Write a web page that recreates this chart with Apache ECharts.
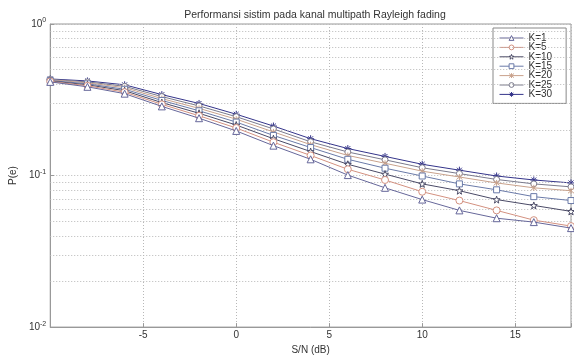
<!DOCTYPE html>
<html>
<head>
<meta charset="utf-8">
<script src="https://cdn.jsdelivr.net/npm/echarts@6/dist/echarts.min.js"></script>
<style>
    html, body { margin: 0; padding: 0; background: #fff; }
    #chart { width: 574px; height: 360px; }
</style>
</head>
<body>
<div id="chart"></div>
<script>
// S/N in dB, one point every 2 dB
const snr = [-10, -8, -6, -4, -2, 0, 2, 4, 6, 8, 10, 12, 14, 16, 18];

// P(e), one list per K
const k1 = [0.415, 0.385, 0.347, 0.286, 0.239, 0.197, 0.1575, 0.128, 0.1007, 0.083, 0.0694, 0.0589, 0.0523, 0.0493, 0.045];
const k5 = [0.418, 0.391, 0.355, 0.295, 0.248, 0.206, 0.166, 0.1357, 0.110, 0.0935, 0.0782, 0.0684, 0.0589, 0.0508, 0.0464];
const k10 = [0.421, 0.397, 0.363, 0.303, 0.2576, 0.2154, 0.175, 0.144, 0.1187, 0.1022, 0.0881, 0.0794, 0.0694, 0.0635, 0.058];
const k15 = [0.424, 0.403, 0.371, 0.313, 0.2675, 0.2253, 0.184, 0.153, 0.128, 0.1118, 0.0993, 0.0881, 0.0805, 0.0726, 0.0684];
const k20 = [0.428, 0.409, 0.380, 0.322, 0.2775, 0.2355, 0.194, 0.160, 0.1357, 0.1205, 0.1069, 0.0978, 0.0894, 0.083, 0.0794];
const k25 = [0.431, 0.415, 0.388, 0.332, 0.288, 0.2445, 0.203, 0.167, 0.143, 0.127, 0.1126, 0.103, 0.0942, 0.0881, 0.0842];
const k30 = [0.434, 0.421, 0.397, 0.342, 0.299, 0.2538, 0.2122, 0.175, 0.1507, 0.1337, 0.1187, 0.1085, 0.0993, 0.0935, 0.0894];

const seriesNames = ['K=1', 'K=5', 'K=10', 'K=15', 'K=20', 'K=25', 'K=30'];
const seriesData = [k1, k5, k10, k15, k20, k25, k30];

// log minor grid (2..9 per decade)
const minorGrid = [0.02, 0.03, 0.04, 0.05, 0.06, 0.07, 0.08, 0.09, 0.2, 0.3, 0.4, 0.5, 0.6, 0.7, 0.8, 0.9];

const STAR = 'path://M0,-10 L2.35,-3.24 L9.51,-3.09 L3.8,1.24 L5.88,8.09 L0,4 L-5.88,8.09 L-3.8,1.24 L-9.51,-3.09 L-2.35,-3.24 Z';
const CROSS = 'path://M-5,-5 L5,5 M5,-5 L-5,5 M0,-6 L0,6';
const ASTER = 'path://M0,-6 L0,6 M-6,0 L6,0 M-4.2,-4.2 L4.2,4.2 M4.2,-4.2 L-4.2,4.2';

const styles = [
    { color: '#66679a', symbol: 'triangle', size: 7 },
    { color: '#d39180', symbol: 'circle', size: 7 },
    { color: '#4a4a66', symbol: STAR, size: 7 },
    { color: '#6a7aa8', symbol: 'rect', size: 6 },
    { color: '#c9a28c', symbol: CROSS, size: 6 },
    { color: '#7a7a8c', symbol: 'circle', size: 6 },
    { color: '#34348a', symbol: ASTER, size: 7 },
];

const chart = echarts.init(document.getElementById('chart'));

const lineSeries = seriesNames.map((name, i) => ({
    name,
    type: 'line',
    data: snr.map((x, j) => [x, seriesData[i][j]]),
    symbol: styles[i].symbol,
    symbolSize: styles[i].size,
    showAllSymbol: true,
    lineStyle: { color: styles[i].color, width: 1 },
    itemStyle: { color: '#fff', borderColor: styles[i].color, borderWidth: 1 },
    emphasis: { disabled: true },
    z: 10 - i,
}));

// dotted minor grid lines
lineSeries.push({
    name: 'grid',
    type: 'line',
    data: [],
    silent: true,
    markLine: {
        silent: true,
        symbol: 'none',
        label: { show: false },
        lineStyle: { color: '#b8b8b8', type: [1, 2], width: 1 },
        data: minorGrid.map(v => ({ yAxis: v })),
    },
    z: 1,
});

chart.setOption({
    animation: false,
    title: {
        text: 'Performansi sistim pada kanal multipath Rayleigh fading',
        left: 310,
        top: 5,
        textAlign: 'center',
        textStyle: { fontSize: 10.5, fontWeight: 'normal', color: '#333', fontFamily: 'Liberation Sans' },
    },
    grid: {
        left: 48,
        right: 1,
        top: 24,
        bottom: 27,
        show: true,
        borderColor: '#999',
        borderWidth: 1,
    },
    legend: {
        data: seriesNames,
        orient: 'vertical',
        left: 493,
        top: 28,
        itemWidth: 24,
        itemHeight: 6,
        itemGap: -0.6,
        padding: [5, 14, 4, 6],
        backgroundColor: '#fff',
        borderColor: '#888',
        borderWidth: 1,
        borderRadius: 0,
        lineStyle: { width: 1 },
        itemStyle: { borderWidth: 1 },
        textStyle: { fontSize: 10, color: '#333', fontFamily: 'Liberation Sans', padding: [0, 0, 0, 0] },
    },
    xAxis: {
        type: 'value',
        min: -10,
        max: 18,
        interval: 5,
        name: 'S/N (dB)',
        nameLocation: 'middle',
        nameGap: 15,
        nameTextStyle: { fontSize: 10, color: '#333', fontFamily: 'Liberation Sans' },
        axisLine: { onZero: false, lineStyle: { color: '#999' } },
        axisTick: { inside: true, length: 4, lineStyle: { color: '#999' } },
        axisLabel: {
            fontSize: 10,
            color: '#333',
            margin: 3,
            fontFamily: 'Liberation Sans',
            formatter: v => (v % 5 === 0 && v > -10 ? String(v) : ''),
        },
        splitLine: { show: true, lineStyle: { color: '#b8b8b8', type: [1, 2] } },
    },
    yAxis: {
        type: 'log',
        logBase: 10,
        min: 0.01,
        max: 1,
        name: 'P(e)',
        nameLocation: 'middle',
        nameGap: 30,
        nameTextStyle: { fontSize: 10, color: '#333', fontFamily: 'Liberation Sans' },
        axisLine: { onZero: false, lineStyle: { color: '#999' } },
        axisTick: { inside: true, length: 4, lineStyle: { color: '#999' } },
        axisLabel: {
            margin: 4,
            color: '#333',
            formatter: v => {
                const e = Math.round(Math.log10(v));
                return '{b|10}{s|' + e + '}';
            },
            rich: {
                b: { fontSize: 10, fontFamily: 'Liberation Sans', color: '#333' },
                s: { fontSize: 7, fontFamily: 'Liberation Sans', color: '#333', padding: [0, 0, 7, 0] },
            },
        },
        splitLine: { show: true, lineStyle: { color: '#b8b8b8', type: [1, 2] } },
    },
    series: lineSeries,
});
</script>
</body>
</html>
